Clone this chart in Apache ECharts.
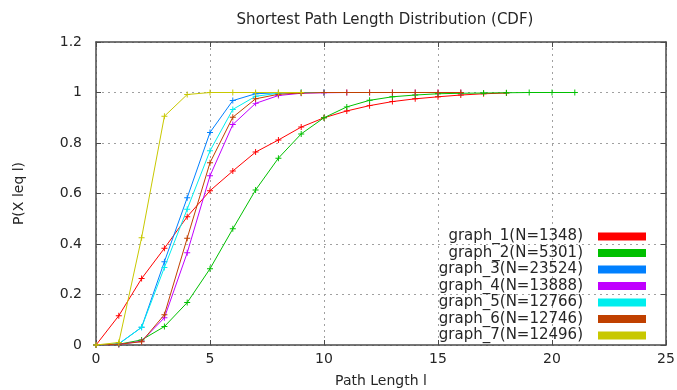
<!DOCTYPE html>
<html>
<head>
<meta charset="utf-8">
<script src="https://cdn.jsdelivr.net/npm/echarts@6/dist/echarts.min.js"></script>
<style>
  html, body { margin: 0; padding: 0; background: #fff; }
  #chart { width: 677px; height: 390px; }
</style>
</head>
<body>
<div id="chart"></div>
<script>
// CDF of shortest path lengths; index in each array = path length l (0, 1, 2, ...)
const seriesNames = [
  'graph_1(N=1348)', 'graph_2(N=5301)', 'graph_3(N=23524)', 'graph_4(N=13888)',
  'graph_5(N=12766)', 'graph_6(N=12746)', 'graph_7(N=12496)'
];
const seriesColors = ['#ff0000', '#00c000', '#0080ff', '#c000ff', '#00eeee', '#c04000', '#c8c800'];

const graph1 = [0, 0.116, 0.263, 0.383, 0.508, 0.611, 0.689, 0.764, 0.812, 0.863, 0.900, 0.927, 0.948, 0.964, 0.975, 0.983, 0.990, 0.995, 0.998];
const graph2 = [0, 0.003, 0.020, 0.073, 0.168, 0.302, 0.460, 0.614, 0.740, 0.836, 0.900, 0.943, 0.969, 0.983, 0.990, 0.995, 0.997, 0.998, 0.999, 1.0, 1.0, 1.0];
const graph3 = [0, 0.005, 0.070, 0.330, 0.583, 0.842, 0.968, 0.995, 0.999, 1.0, 1.0];
const graph4 = [0, 0.002, 0.015, 0.108, 0.365, 0.670, 0.873, 0.957, 0.988, 0.997, 0.999, 1.0, 1.0, 1.0, 1.0, 1.0, 1.0];
const graph5 = [0, 0.004, 0.070, 0.307, 0.538, 0.769, 0.933, 0.985, 0.997, 1.0, 1.0];
const graph6 = [0, 0.003, 0.013, 0.120, 0.423, 0.722, 0.902, 0.975, 0.993, 0.998, 1.0, 1.0, 1.0, 1.0, 1.0, 1.0, 1.0];
const graph7 = [0, 0.010, 0.425, 0.906, 0.992, 1.0, 1.0, 1.0, 1.0, 1.0];
const seriesValues = [graph1, graph2, graph3, graph4, graph5, graph6, graph7];

const xTicks = [0, 5, 10, 15, 20, 25];
const yTicks = [0, 0.2, 0.4, 0.6, 0.8, 1, 1.2];

const FONT = 'DejaVu Sans';
const TEXT = '#262626';
const BORDER = '#4a4a4a';
const plusSymbol = 'path://M-1,-0.16L1,-0.16L1,0.16L-1,0.16Z M-0.16,-1L0.16,-1L0.16,1L-0.16,1Z';

const series = seriesValues.map((vals, i) => ({
  name: seriesNames[i],
  type: 'line',
  data: vals.map((v, l) => [l, v]),
  symbol: plusSymbol,
  symbolSize: 6,
  showSymbol: true,
  lineStyle: { width: 1, color: seriesColors[i] },
  itemStyle: { color: seriesColors[i] },
  emphasis: { disabled: true },
  animation: false,
  z: 2 + i
}));

// one legend per entry so text is right-aligned against a common swatch column
const rowCenters = [237, 253.5, 270, 286.5, 303, 319.5, 336];
const legends = seriesNames.map((name, i) => ({
  data: [{ name: name, icon: 'rect' }],
  orient: 'vertical',
  align: 'right',
  right: 31,
  top: rowCenters[i] - 8,
  padding: 0,
  itemWidth: 48,
  itemHeight: 8,
  selectedMode: false,
  textStyle: { fontFamily: FONT, fontSize: 15, color: TEXT, padding: [0, 10, 0, 0] }
}));

const gridLine = { show: true, lineStyle: { color: '#a0a0a0', type: [2, 4], width: 1 } };
const axisBorder = { show: true, onZero: false, lineStyle: { color: BORDER, width: 1.5 } };
const innerTick = { show: true, inside: true, length: 5, lineStyle: { color: BORDER, width: 1 } };

const option = {
  backgroundColor: '#ffffff',
  animation: false,
  title: {
    text: 'Shortest Path Length Distribution (CDF)',
    left: 380, top: 8, textAlign: 'center',
    textStyle: { fontFamily: FONT, fontSize: 15, fontWeight: 'normal', color: TEXT }
  },
  legend: legends,
  grid: { left: 96, right: 11, top: 42, bottom: 45, containLabel: false, outerBoundsMode: 'none' },
  xAxis: [{
    type: 'value', min: xTicks[0], max: xTicks[xTicks.length - 1], interval: 5,
    name: 'Path Length l', nameLocation: 'middle', nameGap: 29,
    nameTextStyle: { fontFamily: FONT, fontSize: 14, color: TEXT },
    axisLine: axisBorder, axisTick: innerTick, splitLine: gridLine,
    axisLabel: { fontFamily: FONT, fontSize: 14, color: TEXT, margin: 7 }
  }, {
    type: 'value', position: 'top', min: xTicks[0], max: xTicks[xTicks.length - 1], interval: 5,
    axisLine: axisBorder, axisTick: innerTick, splitLine: { show: false }, axisLabel: { show: false }
  }],
  yAxis: [{
    type: 'value', min: yTicks[0], max: yTicks[yTicks.length - 1], interval: 0.2,
    name: 'P(X leq l)', nameLocation: 'middle', nameGap: 70, nameRotate: 90,
    nameTextStyle: { fontFamily: FONT, fontSize: 14, color: TEXT },
    axisLine: axisBorder, axisTick: innerTick, splitLine: gridLine,
    axisLabel: { fontFamily: FONT, fontSize: 14, color: TEXT, margin: 14,
      formatter: v => String(Math.round(v * 10) / 10) }
  }, {
    type: 'value', position: 'right', min: yTicks[0], max: yTicks[yTicks.length - 1], interval: 0.2,
    axisLine: axisBorder, axisTick: innerTick, splitLine: { show: false }, axisLabel: { show: false }
  }],
  series: series
};

const chart = echarts.init(document.getElementById('chart'), null, { renderer: 'canvas' });
chart.setOption(option);
</script>
</body>
</html>
